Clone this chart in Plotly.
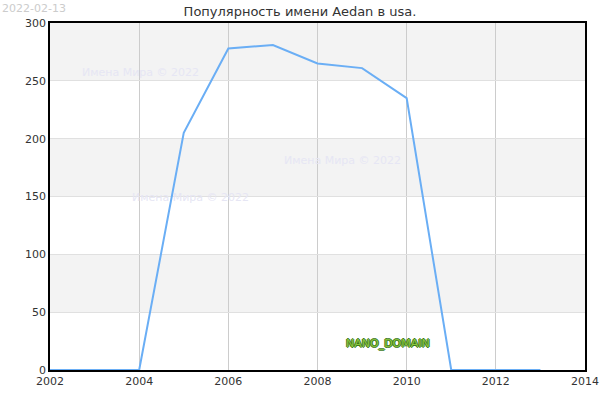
import plotly.graph_objects as go

years = [2002, 2003, 2004, 2005, 2006, 2007, 2008, 2009, 2010, 2011, 2012, 2013]
counts = [0, 0, 0, 205, 278, 281, 265, 261, 235, 0, 0, 0]
x_ticks = [2002, 2004, 2006, 2008, 2010, 2012, 2014]
y_ticks = [0, 50, 100, 150, 200, 250, 300]
title_text = "Популярность имени Aedan в usa."
date_text = "2022-02-13"
watermark = "Имена Мира © 2022"
brand = "NANO_DOMAIN"

W, H = 600, 400
L, R, T, B = 50, 15, 23, 30
pw, ph = W - L - R, H - T - B

fig = go.Figure()
fig.add_trace(go.Scatter(x=years, y=counts, mode="lines",
                         line=dict(color="#6aaef5", width=2), hoverinfo="skip"))

shapes = []
for i in range(len(y_ticks) - 1):
    if i % 2 == 1:
        shapes.append(dict(type="rect", xref="paper", yref="y", x0=0, x1=1,
                           y0=y_ticks[i], y1=y_ticks[i + 1],
                           fillcolor="#f3f3f3", line=dict(width=0), layer="below"))

font = "DejaVu Sans"
annotations = [
    dict(text=date_text, xref="paper", yref="paper", x=-L / pw, y=1 + T / ph,
         xanchor="left", yanchor="top", showarrow=False,
         font=dict(family=font, size=11, color="#cccccc")),
]
for (px, py) in [(140, 72), (342, 160), (190, 197)]:
    annotations.append(dict(text=watermark, xref="paper", yref="paper",
                            x=(px - L) / pw, y=1 - (py - T) / ph,
                            xanchor="center", yanchor="middle", showarrow=False,
                            font=dict(family=font, size=11, color="#e6e6f4")))
annotations.append(dict(text=brand, xref="paper", yref="paper",
                        x=(388 - L) / pw, y=1 - (343 - T) / ph,
                        xanchor="center", yanchor="middle", showarrow=False,
                        font=dict(family=font, size=11, color="#8cc63f",
                                  shadow="1px 0 0 #3c7a1c, -1px 0 0 #3c7a1c, 0 1px 0 #3c7a1c, 0 -1px 0 #3c7a1c")))

axis_common = dict(showgrid=True, gridwidth=1, zeroline=False,
                   showline=True, linecolor="#000000", linewidth=1.5, mirror=True,
                   layer="below traces", ticks="", automargin=False,
                   tickfont=dict(family=font, size=11, color="#333333"))

fig.update_layout(
    width=W, height=H,
    margin=dict(l=L, r=R, t=T, b=B),
    paper_bgcolor="white", plot_bgcolor="white",
    showlegend=False,
    title=dict(text=title_text, x=0.5, xref="container", y=1 - 11 / H, yref="container",
               xanchor="center", yanchor="middle",
               font=dict(family=font, size=13, color="#333333")),
    xaxis=dict(range=[x_ticks[0], x_ticks[-1]], tickvals=x_ticks, ticktext=[str(v) for v in x_ticks],
               gridcolor="#cccccc", **axis_common),
    yaxis=dict(range=[y_ticks[0], y_ticks[-1]], tickvals=y_ticks, ticktext=[str(v) for v in y_ticks],
               gridcolor="#e0e0e0", **axis_common),
    shapes=shapes, annotations=annotations,
)

fig.write_html("out.html", config={"displayModeBar": False},
               post_script="document.body.style.margin='0';")
